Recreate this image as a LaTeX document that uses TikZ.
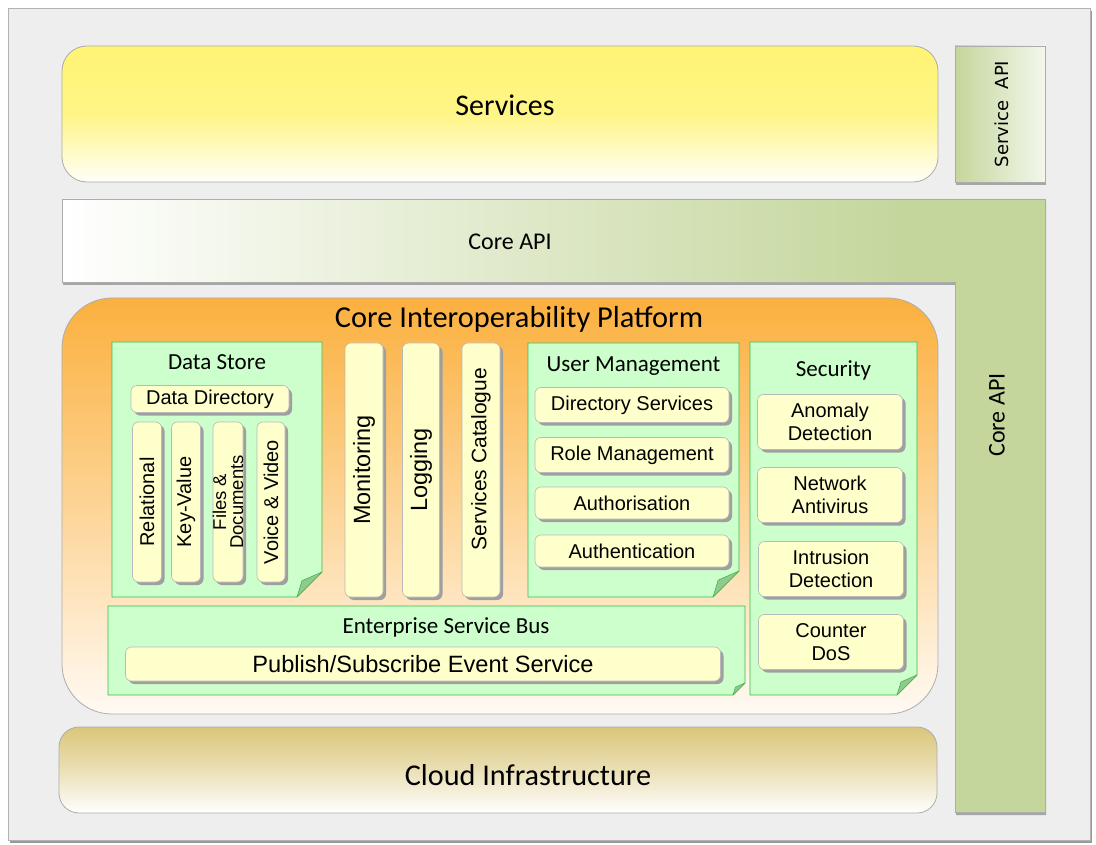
\documentclass[tikz,border=0pt]{standalone}
\usepackage{fontspec}
\setmainfont{Carlito}
\newfontfamily\arialfont{Liberation Sans}
\newfontfamily\verdanafont{DejaVu Sans}
\usetikzlibrary{positioning,shadows}

\definecolor{framegray}{HTML}{EEEEEE}
\definecolor{svcyellow}{HTML}{FFF475}
\definecolor{apigreen}{HTML}{C4D69C}
\definecolor{cipOrange}{HTML}{FBB03E}
\definecolor{cipMid}{HTML}{FDD496}
\definecolor{cipBottom}{HTML}{FFFAF3}
\definecolor{notegreen}{HTML}{CCFFCC}
\definecolor{noteborder}{HTML}{45B649}
\definecolor{flapgreen}{HTML}{8FCB8F}
\definecolor{paleyellow}{HTML}{FFFFCC}
\definecolor{cloudtan}{HTML}{DAC67A}

\pgfdeclarehorizontalshading{coreapishade}{100bp}{color(0bp)=(white); color(25bp)=(white); color(68bp)=(apigreen); color(100bp)=(apigreen)}

% green note with a folded corner: name, top left x y, bottom right x y, fold
\newcommand{\foldnote}[6]{%
  \draw[notebox] (#2,#3) -- (#4,#3) -- (#4,#5-#6) -- (#4-#6,#5) -- (#2,#5) -- cycle;
  \draw[flap] (#4,#5-#6) -- (#4-#6,#5) -- (#4-0.8*#6,#5-0.65*#6) -- cycle;
  \coordinate (#1) at ({(#2+#4)/2},#3);
}

\begin{document}
\begin{tikzpicture}[x=1pt,y=-1pt,
  layer/.style={draw=gray!65, line width=0.8pt},
  item/.style={draw=gray!55, fill=paleyellow, rounded corners=6pt, line width=0.6pt, inner sep=0pt,
    drop shadow={shadow xshift=3pt, shadow yshift=-3pt, fill=gray!75, opacity=1},
    font=\arialfont\fontsize{20}{23}\selectfont, align=center},
  vlabel/.style={rotate=90, font=\arialfont\fontsize{20}{20}\selectfont, align=center, inner sep=0pt},
  notebox/.style={draw=noteborder, fill=notegreen, line width=0.8pt},
  flap/.style={draw=noteborder, fill=flapgreen, line width=0.6pt, line join=round},
  heading/.style={font=\fontsize{23}{26}\selectfont, inner sep=0pt},
  bigheading/.style={font=\fontsize{30}{32}\selectfont, inner sep=0pt}]
\useasboundingbox (0,0) rectangle (1096,845);

% frame
\node[draw=gray!60, fill=framegray, minimum width=1082pt, minimum height=832pt,
  drop shadow={shadow xshift=2pt, shadow yshift=-3pt, fill=gray!80, opacity=1}] (frame) at (549,424) {};

% services and its api
\node[layer, rounded corners=25pt, minimum width=876pt, minimum height=136pt,
  top color=svcyellow, bottom color=svcyellow!4, middle color=svcyellow!88] (services) at (500,114) {};
\node[bigheading] (servicestext) at (505,105) {Services};
\node[layer, minimum width=90pt, minimum height=136pt, left color=apigreen, right color=apigreen!20,
  drop shadow={shadow xshift=1pt, shadow yshift=-3pt, fill=gray!70, opacity=1}] (serviceapi) at (1000,114) {};
\node[rotate=90, font=\verdanafont\fontsize{18}{18}\selectfont] (serviceapitext) at (1002,114) {Service\ \ API};

% core api
\path[layer, shade, shading=coreapishade, drop shadow={shadow xshift=1pt, shadow yshift=-3pt, fill=gray!70, opacity=1}]
  (62,199) -- (1045,199) -- (1045,812) -- (955,812) -- (955,282) -- (62,282) -- cycle;
\node[font=\fontsize{24}{26}\selectfont] (coreapitext) at (510,242) {Core API};
\node[rotate=90, font=\fontsize{24}{26}\selectfont] (coreapivtext) at (997,415) {Core API};

% platform
\node[layer, rounded corners=50pt, minimum width=876pt, minimum height=416pt,
  top color=cipOrange, bottom color=cipBottom, middle color=cipMid] (platform) at (500,506) {};
\node[font=\fontsize{30.4}{32}\selectfont, inner sep=0pt] (platformtext) at (519,319) {Core Interoperability Platform};

% data store
\foldnote{datastore}{112}{342}{322}{597}{25}
\node[heading, below=12pt of datastore] (datastoretext) {Data Store};
\node[item, minimum width=158pt, minimum height=27pt] (datadir) at (210,399) {Data Directory};
\node[item, minimum width=29pt, minimum height=160pt, label={[vlabel]center:Relational}] (relational) at (147,502) {};
\node[item, minimum width=29pt, minimum height=160pt, label={[vlabel]center:Key-Value}] (keyvalue) at (186,502) {};
\node[item, minimum width=30pt, minimum height=160pt,
  label={[vlabel, font=\arialfont\fontsize{18.5}{17}\selectfont]center:{Files \&\\Documents}}] (files) at (228,502) {};
\node[item, minimum width=28pt, minimum height=160pt, label={[vlabel]center:Voice \& Video}] (voice) at (271,502) {};

% monitoring etc
\node[item, minimum width=38pt, minimum height=254pt, label={[vlabel, font=\arialfont\fontsize{23.5}{23}\selectfont]center:Monitoring}] (monitoring) at (364,470) {};
\node[item, minimum width=37pt, minimum height=254pt, label={[vlabel, font=\arialfont\fontsize{23.5}{23}\selectfont]center:Logging}] (logging) at (421,470) {};
\node[item, minimum width=38pt, minimum height=254pt, label={[vlabel, xshift=11pt, font=\arialfont\fontsize{21}{21}\selectfont]center:Services Catalogue}] (catalogue) at (481,470) {};

% user management
\foldnote{usermgmt}{528}{343}{739}{597}{26}
\node[heading, below=14pt of usermgmt] (usermgmttext) {User Management};
\node[item, minimum width=194pt, minimum height=35pt] (dirsvc) at (632,405) {Directory Services};
\node[item, minimum width=194pt, minimum height=35pt] (rolemgmt) at (632,455) {Role Management};
\node[item, minimum width=194pt, minimum height=32pt] (authorisation) at (632,503) {Authorisation};
\node[item, minimum width=194pt, minimum height=32pt] (authentication) at (632,551) {Authentication};

% security
\foldnote{security}{750}{342}{917}{695}{20}
\node[heading, below=18pt of security] (securitytext) {Security};
\node[item, minimum width=145pt, minimum height=55pt] (anomaly) at (830,422) {Anomaly\\Detection};
\node[item, minimum width=145pt, minimum height=55pt] (antivirus) at (830,495) {Network\\Antivirus};
\node[item, minimum width=145pt, minimum height=55pt] (intrusion) at (831,569) {Intrusion\\Detection};
\node[item, minimum width=145pt, minimum height=55pt] (counterdos) at (831,642) {Counter\\DoS};

% enterprise service bus
\foldnote{esb}{108}{606}{745}{695}{12}
\node[heading] (esbtext) at (446,627) {Enterprise Service Bus};
\node[item, minimum width=595pt, minimum height=34pt, font=\arialfont\fontsize{23.6}{25}\selectfont] (pubsub) at (423,664) {Publish/Subscribe Event Service};

% cloud
\node[layer, rounded corners=20pt, minimum width=878pt, minimum height=86pt,
  top color=cloudtan, bottom color=white, middle color=cloudtan!55] (cloud) at (498,770) {};
\node[bigheading, font=\fontsize{30.2}{32}\selectfont] (cloudtext) at (528,775) {Cloud Infrastructure};
\end{tikzpicture}
\end{document}
